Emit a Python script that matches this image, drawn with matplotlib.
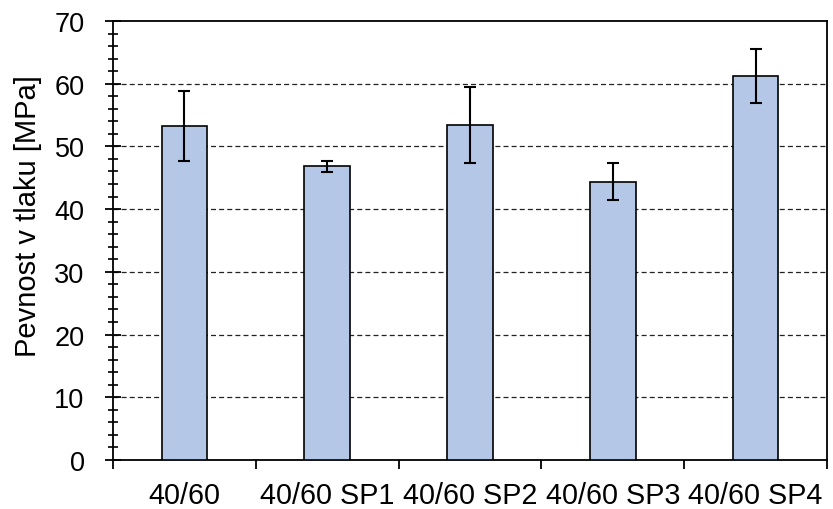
import matplotlib
matplotlib.use("Agg")
import matplotlib.pyplot as plt
from matplotlib.ticker import MultipleLocator, FixedLocator
import numpy as np

categories = ["40/60", "40/60 SP1", "40/60 SP2", "40/60 SP3", "40/60 SP4"]
values = [53.3, 46.8, 53.4, 44.4, 61.2]
errors = [5.6, 0.85, 6.0, 2.95, 4.35]
ylabel = "Pevnost v tlaku [MPa]"

plt.rcParams['font.family'] = ['Liberation Sans', 'DejaVu Sans']

fig = plt.figure(figsize=(8.33, 5.10), dpi=100)
ax = fig.add_axes([0.1357, 0.0961, 0.8571, 0.8608])

x = np.arange(len(categories))
ax.bar(x, values, width=0.32, color='#B4C7E7', edgecolor='black', linewidth=1.2, zorder=3)
ax.errorbar(x, values, yerr=errors, fmt='none', ecolor='black', elinewidth=1.5,
            capsize=4.6, capthick=1.5, zorder=4)

ax.set_xlim(-0.5, len(categories) - 0.5)
ax.set_ylim(0, 70)
ax.yaxis.set_major_locator(MultipleLocator(10))
ax.yaxis.set_minor_locator(MultipleLocator(2))

ax.xaxis.set_major_locator(FixedLocator(np.arange(-0.5, len(categories), 1.0)))
ax.xaxis.set_minor_locator(FixedLocator(x))
ax.set_xticklabels([], minor=False)
ax.set_xticklabels(categories, minor=True, fontsize=20.7)
ax.tick_params(axis='x', which='major', direction='out', length=6.2, width=1.3)
ax.tick_params(axis='x', which='minor', length=0, pad=15)

ax.tick_params(axis='y', which='major', direction='inout', length=11, width=1.3,
               labelsize=19.5, pad=15)
ax.tick_params(axis='y', which='minor', direction='inout', length=6.5, width=1.2)

for s in ax.spines.values():
    s.set_linewidth(1.3)
    s.set_color('black')

for v in range(10, 70, 10):
    ax.axhline(v, color='#222222', linewidth=0.9, linestyle=(0, (4, 2.5)), zorder=1)

ax.set_ylabel(ylabel, fontsize=21)
ax.yaxis.set_label_coords(-0.100, 0.557)

fig.savefig("out.png", dpi=100)
